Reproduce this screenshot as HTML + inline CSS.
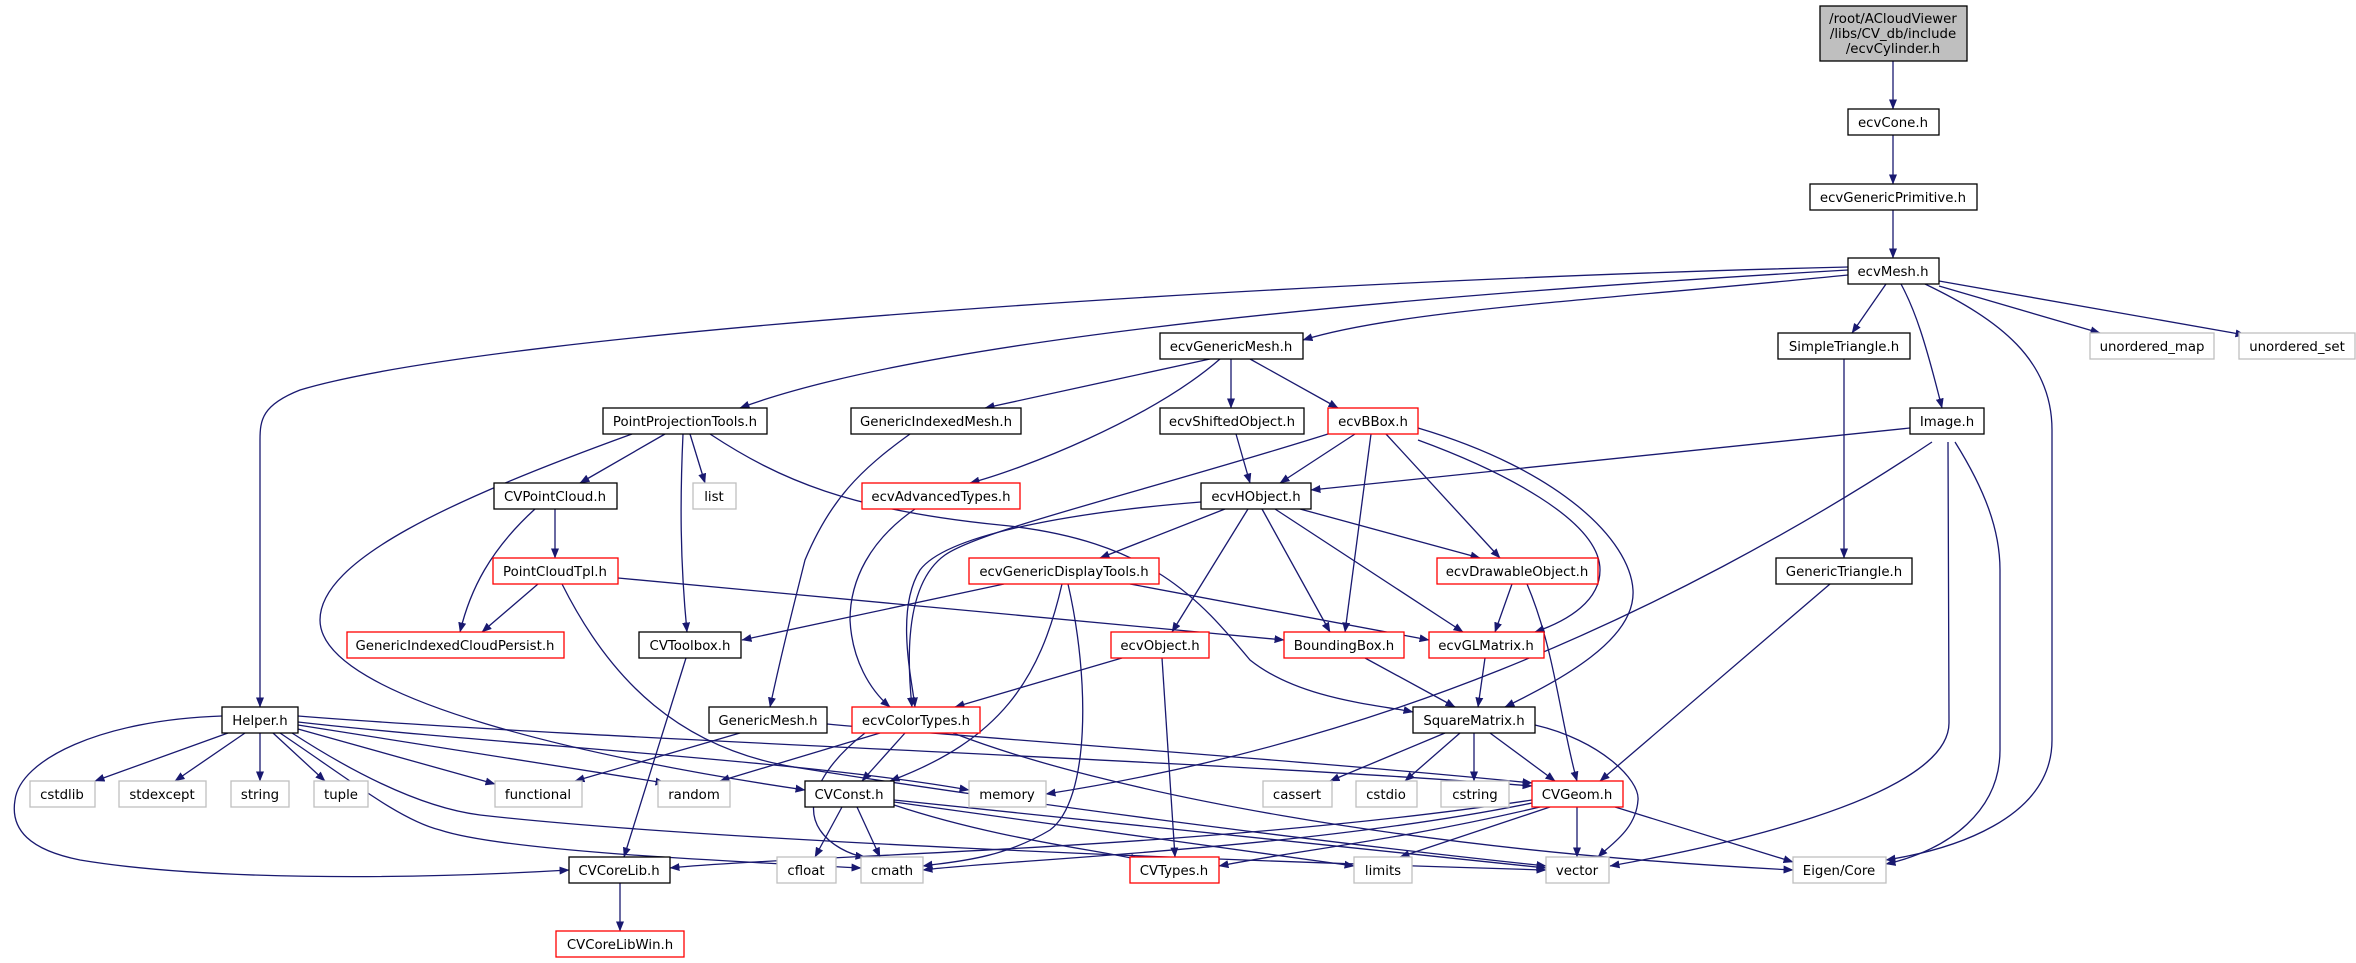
<!DOCTYPE html>
<html><head><meta charset="utf-8"><style>
html,body{margin:0;padding:0;background:#fff;}
svg{display:block;}
text{font-family:"DejaVu Sans","Liberation Sans",sans-serif;font-size:13.3px;fill:#000;}
.e{fill:none;stroke:#191970;stroke-width:1.3;}
.b{fill:#fff;stroke:#000;stroke-width:1.3;}
.r{fill:#fff;stroke:#ff0000;stroke-width:1.3;}
.g{fill:#fff;stroke:#bfbfbf;stroke-width:1.3;}
</style></head><body>
<svg width="2356" height="963" viewBox="0 0 2356 963" xmlns="http://www.w3.org/2000/svg">
<defs><marker id="a" markerWidth="10" markerHeight="8" refX="9.5" refY="4" orient="auto" markerUnits="userSpaceOnUse"><path d="M0,0 L10,4 L0,8 z" fill="#191970"/></marker></defs>
<g class="e" marker-end="url(#a)">
<path d="M1893,61 L1893,109"/>
<path d="M1893,135 L1893,184"/>
<path d="M1893,210 L1893,258"/>
<path d="M1848,267 C1300,280 500,330 300,390 C262,405 260,420 260,440 L260,707"/>
<path d="M1848,270 C1500,290 950,330 740,408"/>
<path d="M1848,275 C1600,300 1400,310 1303,340"/>
<path d="M1886,284 L1852,333"/>
<path d="M1901,284 C1915,310 1925,340 1942,408"/>
<path d="M1925,284 C2000,320 2052,360 2052,430 L2052,740 C2052,820 1950,850 1886,860"/>
<path d="M1939,286 L2100,333"/>
<path d="M1939,281 L2245,335"/>
<path d="M1210,359 L985,408"/>
<path d="M1220,359 C1150,420 1020,470 970,483"/>
<path d="M1231,359 L1231,408"/>
<path d="M1250,359 L1338,408"/>
<path d="M665,434 L580,483"/>
<path d="M690,434 L705,483"/>
<path d="M683,434 C680,500 680,560 687,632"/>
<path d="M632,434 C450,500 320,560 320,620 C320,700 600,760 805,790"/>
<path d="M710,434 C780,480 850,510 1000,525 C1150,540 1200,600 1250,660 C1300,700 1380,705 1413,712"/>
<path d="M910,434 C860,470 830,500 805,560 C790,620 780,660 770,707"/>
<path d="M1236,434 L1250,483"/>
<path d="M1355,434 L1280,483"/>
<path d="M1328,434 C1150,490 980,530 945,555 C910,580 905,640 912,707"/>
<path d="M1371,434 L1345,632"/>
<path d="M1386,434 L1500,558"/>
<path d="M1418,440 C1500,470 1600,520 1600,570 C1600,600 1570,620 1535,632"/>
<path d="M1418,428 C1560,470 1630,540 1633,590 C1636,640 1560,680 1505,707"/>
<path d="M1910,428 L1311,490"/>
<path d="M1932,442 C1800,530 1650,610 1500,670 C1350,730 1200,770 1046,794"/>
<path d="M1948,442 L1949,723 C1949,800 1700,850 1610,866"/>
<path d="M1955,442 C1985,490 2000,530 2000,570 L2000,750 C2000,810 1950,850 1886,864"/>
<path d="M1844,359 L1844,558"/>
<path d="M555,509 L555,558"/>
<path d="M535,509 C490,550 470,590 460,632"/>
<path d="M915,509 C870,540 850,580 850,620 C852,660 870,690 890,707"/>
<path d="M1225,509 L1100,558"/>
<path d="M1201,502 C1100,510 950,530 920,570 C895,610 912,680 915,707"/>
<path d="M1248,509 L1172,632"/>
<path d="M1262,509 L1330,632"/>
<path d="M1275,509 L1463,632"/>
<path d="M1300,509 L1480,558"/>
<path d="M538,584 L482,632"/>
<path d="M618,578 L1284,640"/>
<path d="M562,584 C610,680 680,750 800,768 C1000,800 1300,840 1546,866"/>
<path d="M1004,584 L742,640"/>
<path d="M1130,584 L1429,640"/>
<path d="M1062,584 C1040,680 1000,740 890,781"/>
<path d="M1068,584 C1090,680 1090,800 1050,830 C1000,860 950,862 923,866"/>
<path d="M1512,584 L1495,632"/>
<path d="M1527,584 C1555,650 1560,720 1577,781"/>
<path d="M1830,584 L1600,781"/>
<path d="M686,658 L624,857"/>
<path d="M1122,658 L955,707"/>
<path d="M1162,658 L1175,857"/>
<path d="M1365,658 L1455,707"/>
<path d="M1485,658 L1478,707"/>
<path d="M228,733 L95,781"/>
<path d="M245,733 L175,781"/>
<path d="M260,733 L260,781"/>
<path d="M273,733 L325,781"/>
<path d="M298,729 L495,784"/>
<path d="M298,725 L665,783"/>
<path d="M298,722 C500,745 800,760 969,790"/>
<path d="M298,716 C600,740 1200,760 1532,786"/>
<path d="M222,716 C100,720 20,760 15,800 C10,830 30,850 80,860 C200,880 400,880 569,870"/>
<path d="M280,733 C350,780 400,820 440,830 C500,850 700,860 861,868"/>
<path d="M292,733 C380,790 440,810 480,815 C700,840 1200,860 1546,870"/>
<path d="M740,733 L575,781"/>
<path d="M827,724 C1000,740 1300,760 1532,783"/>
<path d="M905,733 L862,781"/>
<path d="M880,733 L720,781"/>
<path d="M953,733 C1100,790 1400,850 1793,870"/>
<path d="M865,733 C830,760 800,800 820,830 C830,845 850,855 865,857"/>
<path d="M1445,733 L1330,781"/>
<path d="M1460,733 L1405,781"/>
<path d="M1474,733 L1474,781"/>
<path d="M1490,733 L1555,781"/>
<path d="M1535,725 C1600,740 1640,780 1638,800 C1636,830 1610,845 1598,857"/>
<path d="M842,807 L815,857"/>
<path d="M857,807 L880,857"/>
<path d="M894,805 C1000,840 1100,850 1140,860"/>
<path d="M894,802 L1354,866"/>
<path d="M894,800 L1546,868"/>
<path d="M1532,800 C1200,850 800,855 670,868"/>
<path d="M1532,803 C1300,850 1000,860 923,870"/>
<path d="M1540,807 C1400,840 1300,850 1219,866"/>
<path d="M1550,807 L1400,857"/>
<path d="M1577,807 L1577,857"/>
<path d="M1615,807 L1793,862"/>
<path d="M620,883 L620,931"/>
</g>
<rect x="1820" y="6" width="147" height="55" fill="#bfbfbf" stroke="#000" stroke-width="1.3"/>
<text x="1893" y="23" text-anchor="middle">/root/ACloudViewer</text>
<text x="1893" y="38" text-anchor="middle">/libs/CV_db/include</text>
<text x="1893" y="53" text-anchor="middle">/ecvCylinder.h</text>
<g>
<rect class="b" x="1848" y="109" width="91" height="26"/><text x="1893" y="127" text-anchor="middle">ecvCone.h</text>
<rect class="b" x="1810" y="184" width="167" height="26"/><text x="1893" y="202" text-anchor="middle">ecvGenericPrimitive.h</text>
<rect class="b" x="1848" y="258" width="91" height="26"/><text x="1893" y="276" text-anchor="middle">ecvMesh.h</text>
<rect class="b" x="1160" y="333" width="143" height="26"/><text x="1231" y="351" text-anchor="middle">ecvGenericMesh.h</text>
<rect class="b" x="1778" y="333" width="132" height="26"/><text x="1844" y="351" text-anchor="middle">SimpleTriangle.h</text>
<rect class="g" x="2090" y="333" width="124" height="26"/><text x="2152" y="351" text-anchor="middle">unordered_map</text>
<rect class="g" x="2239" y="333" width="116" height="26"/><text x="2297" y="351" text-anchor="middle">unordered_set</text>
<rect class="b" x="603" y="408" width="164" height="26"/><text x="685" y="426" text-anchor="middle">PointProjectionTools.h</text>
<rect class="b" x="851" y="408" width="170" height="26"/><text x="936" y="426" text-anchor="middle">GenericIndexedMesh.h</text>
<rect class="b" x="1160" y="408" width="144" height="26"/><text x="1232" y="426" text-anchor="middle">ecvShiftedObject.h</text>
<rect class="r" x="1328" y="408" width="90" height="26"/><text x="1373" y="426" text-anchor="middle">ecvBBox.h</text>
<rect class="b" x="1910" y="408" width="74" height="26"/><text x="1947" y="426" text-anchor="middle">Image.h</text>
<rect class="b" x="494" y="483" width="123" height="26"/><text x="555" y="501" text-anchor="middle">CVPointCloud.h</text>
<rect class="g" x="693" y="483" width="43" height="26"/><text x="714" y="501" text-anchor="middle">list</text>
<rect class="r" x="862" y="483" width="158" height="26"/><text x="941" y="501" text-anchor="middle">ecvAdvancedTypes.h</text>
<rect class="b" x="1201" y="483" width="110" height="26"/><text x="1256" y="501" text-anchor="middle">ecvHObject.h</text>
<rect class="r" x="493" y="558" width="125" height="26"/><text x="555" y="576" text-anchor="middle">PointCloudTpl.h</text>
<rect class="r" x="969" y="558" width="190" height="26"/><text x="1064" y="576" text-anchor="middle">ecvGenericDisplayTools.h</text>
<rect class="r" x="1437" y="558" width="161" height="26"/><text x="1517" y="576" text-anchor="middle">ecvDrawableObject.h</text>
<rect class="b" x="1776" y="558" width="136" height="26"/><text x="1844" y="576" text-anchor="middle">GenericTriangle.h</text>
<rect class="r" x="347" y="632" width="217" height="26"/><text x="455" y="650" text-anchor="middle">GenericIndexedCloudPersist.h</text>
<rect class="b" x="639" y="632" width="102" height="26"/><text x="690" y="650" text-anchor="middle">CVToolbox.h</text>
<rect class="r" x="1111" y="632" width="98" height="26"/><text x="1160" y="650" text-anchor="middle">ecvObject.h</text>
<rect class="r" x="1284" y="632" width="120" height="26"/><text x="1344" y="650" text-anchor="middle">BoundingBox.h</text>
<rect class="r" x="1429" y="632" width="115" height="26"/><text x="1486" y="650" text-anchor="middle">ecvGLMatrix.h</text>
<rect class="b" x="222" y="707" width="76" height="26"/><text x="260" y="725" text-anchor="middle">Helper.h</text>
<rect class="b" x="709" y="707" width="118" height="26"/><text x="768" y="725" text-anchor="middle">GenericMesh.h</text>
<rect class="r" x="852" y="707" width="128" height="26"/><text x="916" y="725" text-anchor="middle">ecvColorTypes.h</text>
<rect class="b" x="1413" y="707" width="122" height="26"/><text x="1474" y="725" text-anchor="middle">SquareMatrix.h</text>
<rect class="g" x="30" y="781" width="65" height="26"/><text x="62" y="799" text-anchor="middle">cstdlib</text>
<rect class="g" x="119" y="781" width="87" height="26"/><text x="162" y="799" text-anchor="middle">stdexcept</text>
<rect class="g" x="231" y="781" width="58" height="26"/><text x="260" y="799" text-anchor="middle">string</text>
<rect class="g" x="314" y="781" width="54" height="26"/><text x="341" y="799" text-anchor="middle">tuple</text>
<rect class="g" x="495" y="781" width="87" height="26"/><text x="538" y="799" text-anchor="middle">functional</text>
<rect class="g" x="658" y="781" width="72" height="26"/><text x="694" y="799" text-anchor="middle">random</text>
<rect class="b" x="805" y="781" width="89" height="26"/><text x="849" y="799" text-anchor="middle">CVConst.h</text>
<rect class="g" x="969" y="781" width="77" height="26"/><text x="1007" y="799" text-anchor="middle">memory</text>
<rect class="g" x="1263" y="781" width="69" height="26"/><text x="1297" y="799" text-anchor="middle">cassert</text>
<rect class="g" x="1356" y="781" width="61" height="26"/><text x="1386" y="799" text-anchor="middle">cstdio</text>
<rect class="g" x="1441" y="781" width="68" height="26"/><text x="1475" y="799" text-anchor="middle">cstring</text>
<rect class="r" x="1532" y="781" width="91" height="26"/><text x="1577" y="799" text-anchor="middle">CVGeom.h</text>
<rect class="b" x="569" y="857" width="101" height="26"/><text x="619" y="875" text-anchor="middle">CVCoreLib.h</text>
<rect class="g" x="777" y="857" width="59" height="26"/><text x="806" y="875" text-anchor="middle">cfloat</text>
<rect class="g" x="861" y="857" width="62" height="26"/><text x="892" y="875" text-anchor="middle">cmath</text>
<rect class="r" x="1130" y="857" width="89" height="26"/><text x="1174" y="875" text-anchor="middle">CVTypes.h</text>
<rect class="g" x="1354" y="857" width="58" height="26"/><text x="1383" y="875" text-anchor="middle">limits</text>
<rect class="g" x="1546" y="857" width="63" height="26"/><text x="1577" y="875" text-anchor="middle">vector</text>
<rect class="g" x="1793" y="857" width="93" height="26"/><text x="1839" y="875" text-anchor="middle">Eigen/Core</text>
<rect class="r" x="556" y="931" width="128" height="26"/><text x="620" y="949" text-anchor="middle">CVCoreLibWin.h</text>
</g>
</svg>
</body></html>
